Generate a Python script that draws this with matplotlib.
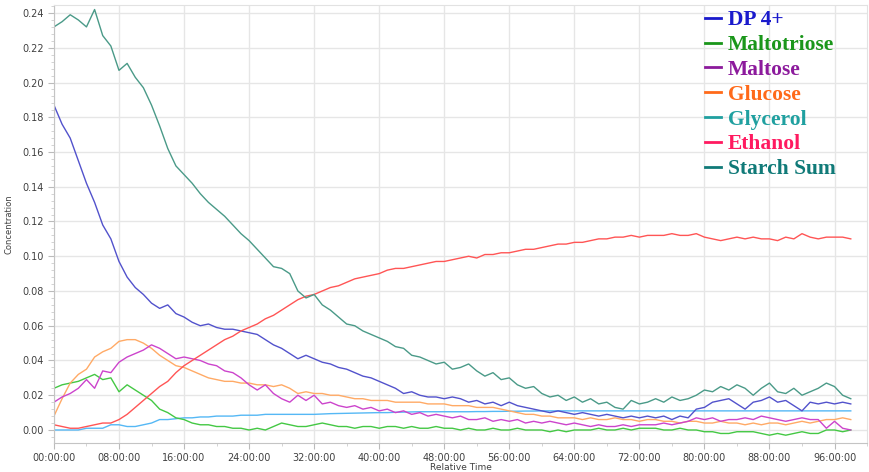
import numpy as np
import matplotlib
matplotlib.use('Agg')
import matplotlib.pyplot as plt
from matplotlib.lines import Line2D
from matplotlib.ticker import MultipleLocator, FuncFormatter

#------------------------------------------------------------------------------
# data (hourly samples, hours since start)

hours = list(range(0, 99))

dp4 = [0.187, 0.176, 0.168, 0.155, 0.142, 0.131, 0.118, 0.110, 0.097, 0.088,
       0.082, 0.078, 0.073, 0.070, 0.072, 0.067, 0.065, 0.062, 0.060, 0.061,
       0.059, 0.058, 0.058, 0.057, 0.056, 0.055, 0.052, 0.049, 0.047, 0.044,
       0.041, 0.043, 0.041, 0.039, 0.038, 0.036, 0.035, 0.033, 0.031, 0.030,
       0.028, 0.026, 0.024, 0.021, 0.022, 0.020, 0.019, 0.019, 0.018, 0.019,
       0.018, 0.016, 0.017, 0.015, 0.016, 0.014, 0.016, 0.014, 0.013, 0.012,
       0.011, 0.010, 0.011, 0.010, 0.009, 0.010, 0.009, 0.008, 0.009, 0.008,
       0.007, 0.008, 0.007, 0.008, 0.007, 0.008, 0.006, 0.008, 0.007, 0.012,
       0.013, 0.016, 0.017, 0.018, 0.015, 0.012, 0.016, 0.017, 0.019, 0.016,
       0.017, 0.014, 0.011, 0.016, 0.015, 0.016, 0.015, 0.016, 0.015]

maltotriose = [0.024, 0.026, 0.027, 0.028, 0.030, 0.032, 0.029, 0.030, 0.022, 0.026,
               0.023, 0.020, 0.017, 0.012, 0.010, 0.007, 0.006, 0.004, 0.003, 0.003,
               0.002, 0.002, 0.001, 0.001, 0.000, 0.001, 0.000, 0.002, 0.004, 0.003,
               0.002, 0.002, 0.003, 0.004, 0.003, 0.002, 0.002, 0.001, 0.002, 0.002,
               0.001, 0.002, 0.002, 0.001, 0.002, 0.001, 0.001, 0.002, 0.001, 0.001,
               0.000, 0.001, 0.000, 0.000, 0.001, 0.000, 0.000, 0.001, 0.000, 0.000,
               0.000, -0.001, 0.000, -0.001, 0.000, 0.000, 0.000, 0.001, 0.000, 0.000,
               0.001, 0.000, 0.001, 0.001, 0.001, 0.000, 0.000, 0.001, 0.000, 0.000,
               -0.001, -0.001, -0.002, -0.002, -0.001, -0.001, -0.001, -0.002, -0.003, -0.002,
               -0.003, -0.002, -0.001, -0.002, -0.002, 0.000, 0.000, -0.001, 0.000]

maltose = [0.016, 0.019, 0.021, 0.024, 0.029, 0.024, 0.034, 0.033, 0.039, 0.042,
           0.044, 0.046, 0.049, 0.047, 0.044, 0.041, 0.042, 0.041, 0.040, 0.038,
           0.037, 0.034, 0.033, 0.030, 0.026, 0.023, 0.026, 0.021, 0.018, 0.016,
           0.020, 0.017, 0.020, 0.015, 0.016, 0.014, 0.013, 0.014, 0.012, 0.013,
           0.011, 0.012, 0.010, 0.011, 0.009, 0.010, 0.008, 0.009, 0.008, 0.007,
           0.008, 0.006, 0.006, 0.007, 0.005, 0.006, 0.005, 0.006, 0.004, 0.005,
           0.004, 0.005, 0.004, 0.003, 0.004, 0.003, 0.002, 0.003, 0.002, 0.002,
           0.003, 0.002, 0.003, 0.003, 0.003, 0.004, 0.003, 0.004, 0.005, 0.007,
           0.006, 0.007, 0.005, 0.006, 0.006, 0.007, 0.006, 0.008, 0.007, 0.006,
           0.005, 0.006, 0.007, 0.006, 0.006, 0.001, 0.005, 0.001, 0.000]

glucose = [0.008, 0.018, 0.027, 0.032, 0.035, 0.042, 0.045, 0.047, 0.051, 0.052,
           0.052, 0.050, 0.047, 0.043, 0.040, 0.037, 0.036, 0.034, 0.032, 0.030,
           0.029, 0.028, 0.028, 0.027, 0.027, 0.026, 0.026, 0.025, 0.026, 0.024,
           0.021, 0.022, 0.021, 0.021, 0.020, 0.020, 0.019, 0.018, 0.018, 0.017,
           0.017, 0.017, 0.016, 0.016, 0.016, 0.016, 0.015, 0.015, 0.015, 0.014,
           0.014, 0.014, 0.013, 0.013, 0.013, 0.012, 0.011, 0.010, 0.009, 0.009,
           0.008, 0.008, 0.007, 0.007, 0.007, 0.006, 0.007, 0.006, 0.006, 0.007,
           0.006, 0.006, 0.005, 0.006, 0.006, 0.005, 0.005, 0.004, 0.005, 0.005,
           0.004, 0.004, 0.005, 0.004, 0.004, 0.003, 0.004, 0.003, 0.004, 0.004,
           0.003, 0.004, 0.005, 0.004, 0.005, 0.006, 0.006, 0.007, 0.006]

glycerol = [0.000, 0.000, 0.000, 0.000, 0.001, 0.001, 0.001, 0.003, 0.003, 0.002,
            0.002, 0.003, 0.004, 0.006, 0.006, 0.0065, 0.007, 0.007, 0.0075, 0.0075,
            0.008, 0.008, 0.008, 0.0085, 0.0085, 0.0085, 0.009, 0.009, 0.009, 0.009,
            0.009, 0.009, 0.009, 0.0092, 0.0094, 0.0095, 0.0096, 0.0097, 0.0098, 0.0099,
            0.010, 0.010, 0.0102, 0.0103, 0.0104, 0.0105, 0.0105, 0.0105, 0.0105, 0.0105,
            0.0105, 0.0105, 0.0106, 0.0106, 0.0107, 0.0107, 0.0108, 0.0108, 0.0109, 0.0109,
            0.011, 0.011, 0.011, 0.011, 0.011, 0.011, 0.011, 0.011, 0.011, 0.011,
            0.011, 0.011, 0.011, 0.011, 0.011, 0.011, 0.011, 0.011, 0.011, 0.011,
            0.011, 0.011, 0.011, 0.011, 0.011, 0.011, 0.011, 0.011, 0.011, 0.011,
            0.011, 0.011, 0.011, 0.011, 0.011, 0.011, 0.011, 0.011, 0.011]

ethanol = [0.003, 0.002, 0.001, 0.001, 0.002, 0.003, 0.004, 0.004, 0.006, 0.009,
           0.013, 0.017, 0.021, 0.025, 0.028, 0.033, 0.037, 0.040, 0.043, 0.046,
           0.049, 0.052, 0.054, 0.057, 0.059, 0.061, 0.064, 0.066, 0.069, 0.072,
           0.075, 0.077, 0.078, 0.080, 0.082, 0.083, 0.085, 0.087, 0.088, 0.089,
           0.090, 0.092, 0.093, 0.093, 0.094, 0.095, 0.096, 0.097, 0.097, 0.098,
           0.099, 0.100, 0.099, 0.101, 0.101, 0.102, 0.102, 0.103, 0.104, 0.104,
           0.105, 0.106, 0.107, 0.107, 0.108, 0.108, 0.109, 0.110, 0.110, 0.111,
           0.111, 0.112, 0.111, 0.112, 0.112, 0.112, 0.113, 0.112, 0.112, 0.113,
           0.111, 0.110, 0.109, 0.110, 0.111, 0.110, 0.111, 0.110, 0.110, 0.109,
           0.111, 0.110, 0.113, 0.111, 0.110, 0.111, 0.111, 0.111, 0.110]

starch_sum = [0.232, 0.235, 0.239, 0.236, 0.232, 0.242, 0.227, 0.221, 0.207, 0.211,
              0.203, 0.197, 0.187, 0.175, 0.162, 0.152, 0.147, 0.142, 0.136, 0.131,
              0.127, 0.123, 0.118, 0.113, 0.109, 0.104, 0.099, 0.094, 0.093, 0.090,
              0.080, 0.076, 0.078, 0.072, 0.069, 0.065, 0.061, 0.060, 0.057, 0.055,
              0.053, 0.051, 0.048, 0.047, 0.043, 0.042, 0.040, 0.038, 0.039, 0.035,
              0.036, 0.038, 0.034, 0.031, 0.033, 0.029, 0.030, 0.026, 0.024, 0.025,
              0.021, 0.019, 0.020, 0.017, 0.019, 0.016, 0.018, 0.015, 0.016, 0.013,
              0.012, 0.017, 0.015, 0.016, 0.018, 0.016, 0.019, 0.017, 0.018, 0.020,
              0.023, 0.022, 0.025, 0.023, 0.026, 0.024, 0.020, 0.024, 0.027, 0.022,
              0.021, 0.024, 0.020, 0.022, 0.024, 0.027, 0.025, 0.020, 0.018]

names = ['DP 4+', 'Maltotriose', 'Maltose', 'Glucose', 'Glycerol', 'Ethanol', 'Starch Sum']
series = [dp4, maltotriose, maltose, glucose, glycerol, ethanol, starch_sum]

# plotted line colours and the (darker) legend colours
line_colors = ['#5252cc', '#44c844', '#cc44cc', '#ffaa66', '#55b8f5', '#ff5555', '#4a9a88']
legend_colors = ['#1a1acc', '#1a961a', '#8c1a9c', '#ff6a1a', '#20a0a0', '#ff1a60', '#107a78']

#------------------------------------------------------------------------------
# plot

fig = plt.figure(figsize=(8.7, 4.72), dpi=100)
ax = fig.add_axes([0.062, 0.0614, 0.9346, 0.9276])

# draw order roughly like the reference: back to front
for i in [4, 1, 3, 2, 0, 5, 6]:
    ax.plot(hours, series[i], color=line_colors[i], lw=1.0)

ax.set_xlim(0, 100)
ax.set_ylim(-0.0075, 0.2445)

ax.xaxis.set_major_locator(MultipleLocator(8))
ax.xaxis.set_minor_locator(MultipleLocator(4))
ax.xaxis.set_major_formatter(FuncFormatter(lambda v, p: f"{int(round(v)):02d}:00:00"))
ax.yaxis.set_major_locator(MultipleLocator(0.02))
ax.yaxis.set_minor_locator(MultipleLocator(0.004))
ax.yaxis.set_major_formatter(FuncFormatter(lambda v, p: f"{v:.2f}"))

ax.tick_params(axis='both', which='major', labelsize=7, colors='#bbbbbb',
               labelcolor='#404040', length=4, width=0.8)
ax.tick_params(axis='both', which='minor', colors='#cccccc', length=2, width=0.6)

ax.grid(True, which='major', color='#e6e6e6', lw=1.0)
ax.set_axisbelow(True)
for side in ['top', 'right']:
    ax.spines[side].set_color('#e2e2e2')
for side in ['left', 'bottom']:
    ax.spines[side].set_color('#c4c4c4')

ax.set_xlabel('Relative Time', fontsize=6.5, color='#404040', labelpad=-0.5)
ax.set_ylabel('Concentration', fontsize=6, color='#404040', labelpad=6)

handles = [Line2D([], [], color=c, lw=2) for c in legend_colors]
leg = ax.legend(handles, names, loc='upper left', bbox_to_anchor=(0.785, 1.018),
                frameon=False, handlelength=0.75, handletextpad=0.3,
                labelspacing=0.22, borderaxespad=0.2,
                prop={'family': 'Liberation Serif', 'weight': 'bold', 'size': 15.5},
                labelcolor=legend_colors)

fig.savefig('out.png', dpi=100, facecolor='white')
